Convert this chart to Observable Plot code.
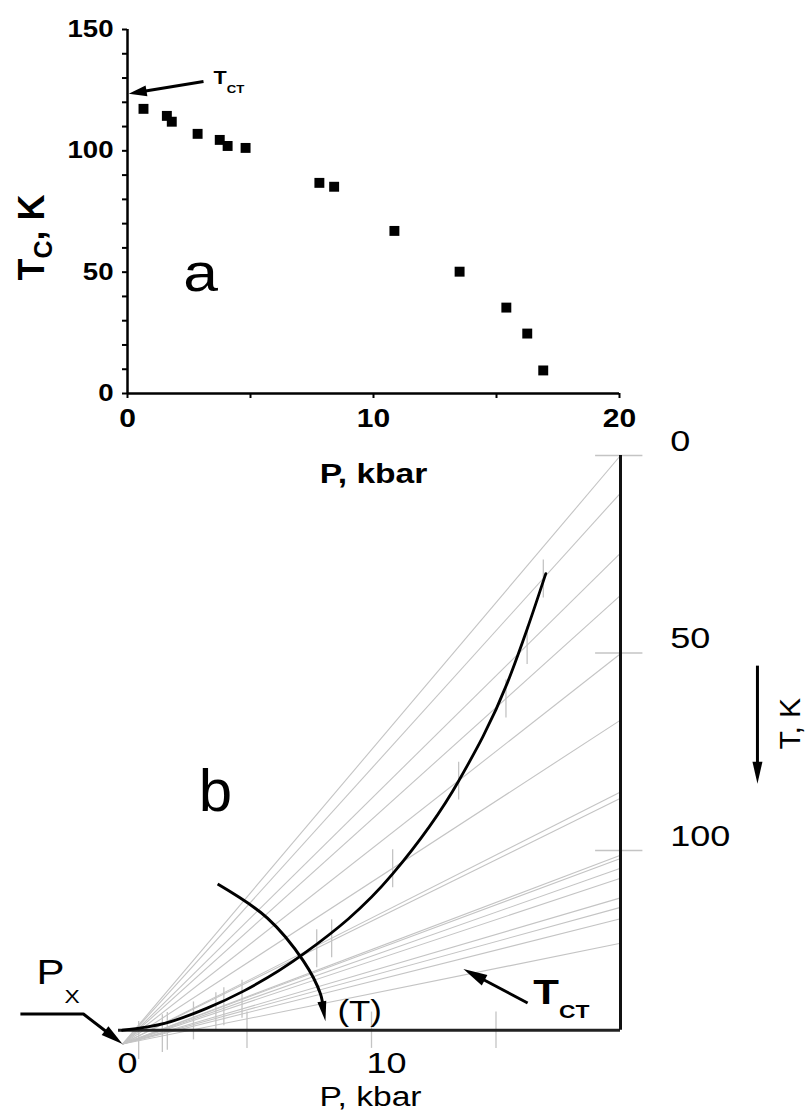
<!DOCTYPE html>
<html><head><meta charset="utf-8">
<script src="https://cdn.jsdelivr.net/npm/d3@7"></script>
<script src="https://cdn.jsdelivr.net/npm/@observablehq/plot@0.6"></script>
<style>
html,body{margin:0;padding:0;background:#fff;}
#wrap{position:relative;width:811px;height:1111px;overflow:hidden;background:#fff;font-family:"Liberation Sans",Arial,sans-serif;}
#wrap svg{position:absolute;left:0;top:0;}
</style></head><body><div id="wrap"></div>
<script>
// ===== Data =====
// panel a: Tc versus P
const pressure = [0.65, 1.6, 1.8, 2.85, 3.75, 4.07, 4.8, 7.8, 8.4, 10.85, 13.5, 15.4, 16.25, 16.9];
const tcValues = [117.3, 114.4, 112, 107, 104.5, 102, 101.2, 86.8, 85.2, 67, 50.2, 35.4, 24.7, 9.5];
const tct = 123.5;
const aXTicks = [0, 5, 10, 15, 20];
const aXLabels = [0, 10, 20];
const aYTicks = [0, 10, 20, 30, 40, 50, 60, 70, 80, 90, 100, 110, 120, 130, 140, 150];
const aYLabels = [0, 50, 100, 150];
// panel b
const fanOriginT = 149;
const fanEndP = 20;
const baseT = 145.5;
const bRightTicks = [0, 50, 100];
const bBottomTicks = [5, 10, 15];
const bBottomLabels = [0, 10];
const curveP = [0, 1.73, 3.4, 4.86, 7.27, 10.84, 13.5, 15.46, 16.27, 17.0];
const curveT = [145.5, 143.7, 139.9, 135.6, 126.2, 106, 82.4, 57.5, 43.6, 29.9];
// annotation arrows, in (P, T) units
const aTctArrow = [[3.09, 128.6], [0.05, 123.5]];
const bPxArrow = [[-4.1, 141.4], [-1.57, 141.4], [0, 149]];
const bTctArrow = [[16.27, 138.6], [13.69, 130.0]];
const bTArrow = [[3.82, 108.5], [5.82, 117.1], [7.27, 128], [7.95, 136.3], [8.15, 143.2]];
const bTKArrow = [[25.5, 53.2], [25.5, 83.1]];

// ===== layout =====
const W = 811, H = 1111;
const mA = {left: 127, right: 192, top: 29, bottom: 718};
const mB = {left: 122, right: 191, top: 455, bottom: 63.5};
const kA = [(W - mA.left - mA.right) / 20, -(H - mA.top - mA.bottom) / 150];
const kB = [(W - mB.left - mB.right) / 20, (H - mB.top - mB.bottom) / 150];
const FONT = "Liberation Sans, Arial, sans-serif";

function arrow(pts, k, len, wid, sw, curve) {
  const a = pts[pts.length - 2], b = pts[pts.length - 1];
  const ang = Math.atan2((b[1] - a[1]) * k[1], (b[0] - a[0]) * k[0]);
  const c = Math.cos(ang), s = Math.sin(ang);
  const sym = {draw(ctx) {
    const bx = -len * c, by = -len * s, px = -s * wid / 2, py = c * wid / 2;
    ctx.moveTo(0, 0); ctx.lineTo(bx + px, by + py); ctx.lineTo(bx - px, by - py); ctx.closePath();
  }};
  const trimmed = pts.slice(0, -1).concat([[b[0] - len * 0.6 * c / k[0], b[1] - len * 0.6 * s / k[1]]]);
  return [
    Plot.line(trimmed, {x: d => d[0], y: d => d[1], stroke: "#000", strokeWidth: sw, curve: curve || "linear", strokeLinecap: "butt", strokeLinejoin: "round"}),
    Plot.dot([b], {x: d => d[0], y: d => d[1], symbol: sym, fill: "#000", r: 1})
  ];
}

const aPoints = pressure.map((p, i) => ({p, t: tcValues[i]}));

const chartA = Plot.plot({
  width: W, height: H,
  marginLeft: mA.left, marginRight: mA.right, marginTop: mA.top, marginBottom: mA.bottom,
  style: {background: "transparent", fontFamily: FONT, overflow: "visible"},
  x: {domain: [0, 20]},
  y: {domain: [0, 150]},
  marks: [
    Plot.axisX(aXTicks, {tickSize: 5, tickPadding: 11, fontSize: 25, fontWeight: "bold", strokeWidth: 2, label: null,
      tickFormat: d => aXLabels.includes(d) ? String(d) : ""}),
    Plot.axisY(aYTicks, {tickSize: 5, tickPadding: 9, fontSize: 23, fontWeight: "bold", strokeWidth: 2, label: null,
      tickFormat: d => aYLabels.includes(d) ? String(d) : ""}),
    Plot.ruleY([0], {stroke: "#000", strokeWidth: 2.5}),
    Plot.ruleX([0], {stroke: "#000", strokeWidth: 2.5}),
    Plot.dot(aPoints, {x: "p", y: "t", symbol: "square", r: 5.6, fill: "#000"}),
    ...arrow(aTctArrow, kA, 18, 11, 3),
    Plot.text(["T_{CT}"], {x: 3.5, y: 127.7, text: d => d, textAnchor: "start", lineAnchor: "bottom", fontSize: 18, fontWeight: "bold"}),
    Plot.text(["a"], {x: 2.97, y: 42.4, text: d => d, textAnchor: "middle", lineAnchor: "bottom", fontSize: 52}),
    Plot.text(["T_{C}, K"], {x: -3.41, y: 64.3, text: d => d, rotate: -90, textAnchor: "middle", lineAnchor: "bottom", fontSize: 36, fontWeight: "bold"}),
    Plot.text(["P, kbar"], {x: 10, y: -36.7, text: d => d, textAnchor: "middle", lineAnchor: "bottom", fontSize: 28, fontWeight: "bold"})
  ]
});

const bPoints = pressure.map((p, i) => ({p, t: fanOriginT + (tcValues[i] - fanOriginT) * p / fanEndP}));
const fanTemps = [0, ...tcValues, tct];
const curvePts = curveP.map((p, i) => [p, curveT[i]]);

const chartB = Plot.plot({
  width: W, height: H,
  marginLeft: mB.left, marginRight: mB.right, marginTop: mB.top, marginBottom: mB.bottom,
  style: {background: "transparent", fontFamily: FONT, overflow: "visible"},
  x: {domain: [0, 20], axis: null},
  y: {domain: [0, 150], reverse: true, axis: null},
  marks: [
    Plot.link(fanTemps, {x1: 0, y1: fanOriginT, x2: fanEndP, y2: d => d, stroke: "#c4c4c4", strokeWidth: 1.1}),
    Plot.link(bPoints, {x1: "p", x2: "p", y1: d => d.t - 4.8, y2: d => d.t + 4.8, stroke: "#c4c4c4", strokeWidth: 1.3}),
    Plot.ruleX(bBottomTicks, {y1: baseT - 4.6, y2: baseT + 4.6, stroke: "#c4c4c4", strokeWidth: 1.3}),
    Plot.ruleY(bRightTicks, {x1: 19.0, x2: 20.9, stroke: "#c4c4c4", strokeWidth: 1.5}),
    Plot.ruleY([baseT], {x1: -0.16, x2: fanEndP, stroke: "#222", strokeWidth: 3}),
    Plot.ruleX([fanEndP], {y1: 0, y2: baseT, stroke: "#111", strokeWidth: 3}),
    Plot.line(curvePts, {x: d => d[0], y: d => d[1], curve: "monotone-x", stroke: "#000", strokeWidth: 2.8}),
    ...arrow(bPxArrow, kB, 22, 11, 3),
    ...arrow(bTctArrow, kB, 24, 12, 3),
    ...arrow(bTArrow, kB, 20, 9, 3, "catmull-rom"),
    ...arrow(bTKArrow, kB, 22, 10, 3),
    Plot.text(bRightTicks, {x: 22.0, y: d => d, text: d => String(d), textAnchor: "start", lineAnchor: "bottom", dy: -5, fontSize: 30}),
    Plot.text(bBottomLabels, {x: d => d, y: 156.3, text: d => String(d), textAnchor: "start", lineAnchor: "bottom", dx: -5, fontSize: 30}),
    Plot.text(["P, kbar"], {x: 9.96, y: 164.6, text: d => d, textAnchor: "middle", lineAnchor: "bottom", fontSize: 28}),
    Plot.text(["(T)"], {x: 8.63, y: 143.2, text: d => d, textAnchor: "start", lineAnchor: "bottom", fontSize: 29}),
    Plot.text(["b"], {x: 3.73, y: 90.0, text: d => d, textAnchor: "middle", lineAnchor: "bottom", fontSize: 60}),
    Plot.text(["P_{X}"], {x: -3.45, y: 133.8, text: d => d, textAnchor: "start", lineAnchor: "bottom", fontSize: 35}),
    Plot.text(["T_{CT}"], {x: 16.5, y: 138.9, text: d => d, textAnchor: "start", lineAnchor: "bottom", fontSize: 35, fontWeight: "bold"}),
    Plot.text(["T, K"], {x: 27.2, y: 67.9, text: d => d, rotate: -90, textAnchor: "middle", lineAnchor: "bottom", fontSize: 30})
  ]
});

const wrap = document.getElementById("wrap");
wrap.appendChild(chartA);
wrap.appendChild(chartB);

// subscripts and horizontal stretch of the lettering
const SUBS = {
  "T_{CT}|18": {size: 11, dy: 9},
  "T_{CT}|35": {size: 19, dy: 14},
  "P_{X}|35": {size: 19, dy: 19},
  "T_{C}, K|36": {size: 25, dy: 8}
};
const NOSTRETCH = new Set(["b"]);
const NS = "http://www.w3.org/2000/svg";
for (const svg of [chartA, chartB]) {
  svg.querySelectorAll("text").forEach(t => {
    const s = t.textContent;
    if (s.includes("_{")) {
      const holder = t.closest("[font-size]");
      const fs = holder ? parseFloat(holder.getAttribute("font-size")) : 12;
      const cfg = SUBS[s + "|" + fs] || {size: fs * 0.6, dy: fs * 0.3};
      const parts = s.split(/(_\{[^}]*\})/).filter(Boolean);
      t.textContent = "";
      let shifted = false;
      for (const p of parts) {
        const ts = document.createElementNS(NS, "tspan");
        if (p.startsWith("_{")) {
          ts.textContent = p.slice(2, -1);
          ts.setAttribute("font-size", cfg.size);
          ts.setAttribute("dy", cfg.dy);
          shifted = true;
        } else {
          ts.textContent = p;
          if (shifted) { ts.setAttribute("dy", -cfg.dy); shifted = false; }
        }
        t.appendChild(ts);
      }
    }
    const tr = t.getAttribute("transform") || "";
    if (!/rotate\(/.test(tr) && !NOSTRETCH.has(s)) t.setAttribute("transform", (tr + " scale(1.2,1)").trim());
  });
}
</script>
</body></html>
